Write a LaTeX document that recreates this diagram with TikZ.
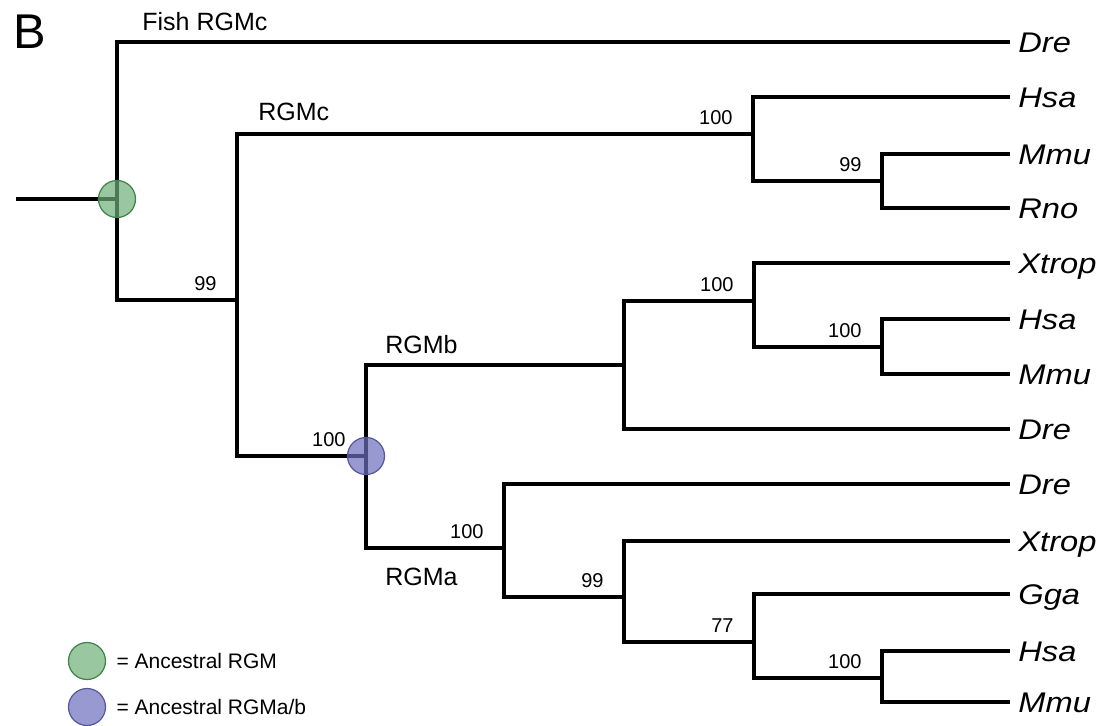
\documentclass[tikz,border=0pt]{standalone}
\usepackage{fontspec}
\setmainfont{Liberation Sans}
\newfontfamily\leaffamily[FakeStretch=1.15]{Liberation Sans}
\usetikzlibrary{positioning}

\definecolor{ancgreen}{RGB}{110,175,120}
\definecolor{ancgreenline}{RGB}{60,130,75}
\definecolor{ancblue}{RGB}{110,110,190}
\definecolor{ancblueline}{RGB}{85,85,160}

\begin{document}
\begin{tikzpicture}[x=0.5pt, y=-0.5pt,
        branch/.style={line width=2.3pt, line join=miter},
        leaf/.style={anchor=west, inner xsep=4pt, inner ysep=0pt, text height=10.2pt, text depth=0pt, font=\leaffamily\fontsize{14.2}{17}\selectfont\itshape},
        boot/.style={inner sep=0pt, font=\fontsize{10}{12}\selectfont},
        clade/.style={anchor=base west, inner sep=0pt, font=\fontsize{12.5}{15}\selectfont},
        anc/.style={circle, minimum size=18.5pt, inner sep=0pt, fill opacity=0.7, line width=0.6pt},
        keytext/.style={inner sep=0pt, font=\fontsize{10.5}{12}\selectfont}
    ]
    \useasboundingbox (0,0) rectangle (1114,725);
    \node[anchor=base west, inner sep=0pt, font=\fontsize{24.4}{28}\selectfont] (panel) at (13,48) {B};

    % internal nodes
    \coordinate (stem) at (16,199);
    \coordinate (root) at (117,199);
    \coordinate (n99) at (237,300);
    \coordinate (rgmc) at (753,134);
    \coordinate (n882a) at (882,181);
    \coordinate (ab) at (366,456);
    \coordinate (rgmb) at (624,365);
    \coordinate (n752b) at (754,301);
    \coordinate (n882b) at (882,347);
    \coordinate (rgma) at (504,548);
    \coordinate (n626) at (624,597);
    \coordinate (n752c) at (754,642);
    \coordinate (n882c) at (882,678);

    % leaves
    \node[leaf] (dreA) at (1010,42) {Dre};
    \node[leaf] (hsaA) at (1010,97) {Hsa};
    \node[leaf] (mmuA) at (1010,154) {Mmu};
    \node[leaf] (rno) at (1010,208) {Rno};
    \node[leaf] (xtropB) at (1010,263) {Xtrop};
    \node[leaf] (hsaB) at (1010,319) {Hsa};
    \node[leaf] (mmuB) at (1010,374) {Mmu};
    \node[leaf] (dreB) at (1010,429) {Dre};
    \node[leaf] (dreC) at (1010,484) {Dre};
    \node[leaf] (xtropC) at (1010,541) {Xtrop};
    \node[leaf] (gga) at (1010,594) {Gga};
    \node[leaf] (hsaC) at (1010,651) {Hsa};
    \node[leaf] (mmuC) at (1010,702) {Mmu};

    % branches
    \draw[branch] (stem) -- (root);
    \draw[branch] (root) |- (dreA);
    \draw[branch] (root) |- (n99);
    \draw[branch] (n99) |- (rgmc);
    \draw[branch] (n99) |- (ab);
    \draw[branch] (rgmc) |- (hsaA);
    \draw[branch] (rgmc) |- (n882a);
    \draw[branch] (n882a) |- (mmuA);
    \draw[branch] (n882a) |- (rno);
    \draw[branch] (ab) |- (rgmb);
    \draw[branch] (ab) |- (rgma);
    \draw[branch] (rgmb) |- (n752b);
    \draw[branch] (rgmb) |- (dreB);
    \draw[branch] (n752b) |- (xtropB);
    \draw[branch] (n752b) |- (n882b);
    \draw[branch] (n882b) |- (hsaB);
    \draw[branch] (n882b) |- (mmuB);
    \draw[branch] (rgma) |- (dreC);
    \draw[branch] (rgma) |- (n626);
    \draw[branch] (n626) |- (xtropC);
    \draw[branch] (n626) |- (n752c);
    \draw[branch] (n752c) |- (gga);
    \draw[branch] (n752c) |- (n882c);
    \draw[branch] (n882c) |- (hsaC);
    \draw[branch] (n882c) |- (mmuC);

    % bootstrap values
    \node[boot, above left=4.5pt and 10pt of n99] (b99) {99};
    \node[boot, above left=4.5pt and 10pt of rgmc] (brgmc) {100};
    \node[boot, above left=4.5pt and 10pt of n882a] (b882a) {99};
    \node[boot, above left=4.5pt and 10pt of ab] (bab) {100};
    \node[boot, above left=4.5pt and 10pt of n752b] (b752b) {100};
    \node[boot, above left=4.5pt and 10pt of n882b] (b882b) {100};
    \node[boot, above left=4.5pt and 10pt of rgma] (brgma) {100};
    \node[boot, above left=4.5pt and 10pt of n626] (b626) {99};
    \node[boot, above left=4.5pt and 10pt of n752c] (b752c) {77};
    \node[boot, above left=4.5pt and 10pt of n882c] (b882c) {100};

    % clade names
    \node[clade] (fishLbl) at (142,30) {Fish RGMc};
    \node[clade] (rgmcLbl) at (258,120) {RGMc};
    \node[clade] (rgmbLbl) at (385,353) {RGMb};
    \node[clade] (rgmaLbl) at (385,585) {RGMa};

    % ancestral nodes
    \node[anc, fill=ancgreen, draw=ancgreenline] (ancRGM) at (root) {};
    \node[anc, fill=ancblue, draw=ancblueline] (ancAB) at (ab) {};

    % key
    \node[anc, fill=ancgreen, draw=ancgreenline] (keyGreen) at (87,661) {};
    \node[anc, fill=ancblue, draw=ancblueline] (keyBlue) at (87,707) {};
    \node[keytext, right=5pt of keyGreen] (keyGreenTxt) {= Ancestral RGM};
    \node[keytext, right=5pt of keyBlue] (keyBlueTxt) {= Ancestral RGMa/b};
\end{tikzpicture}
\end{document}
